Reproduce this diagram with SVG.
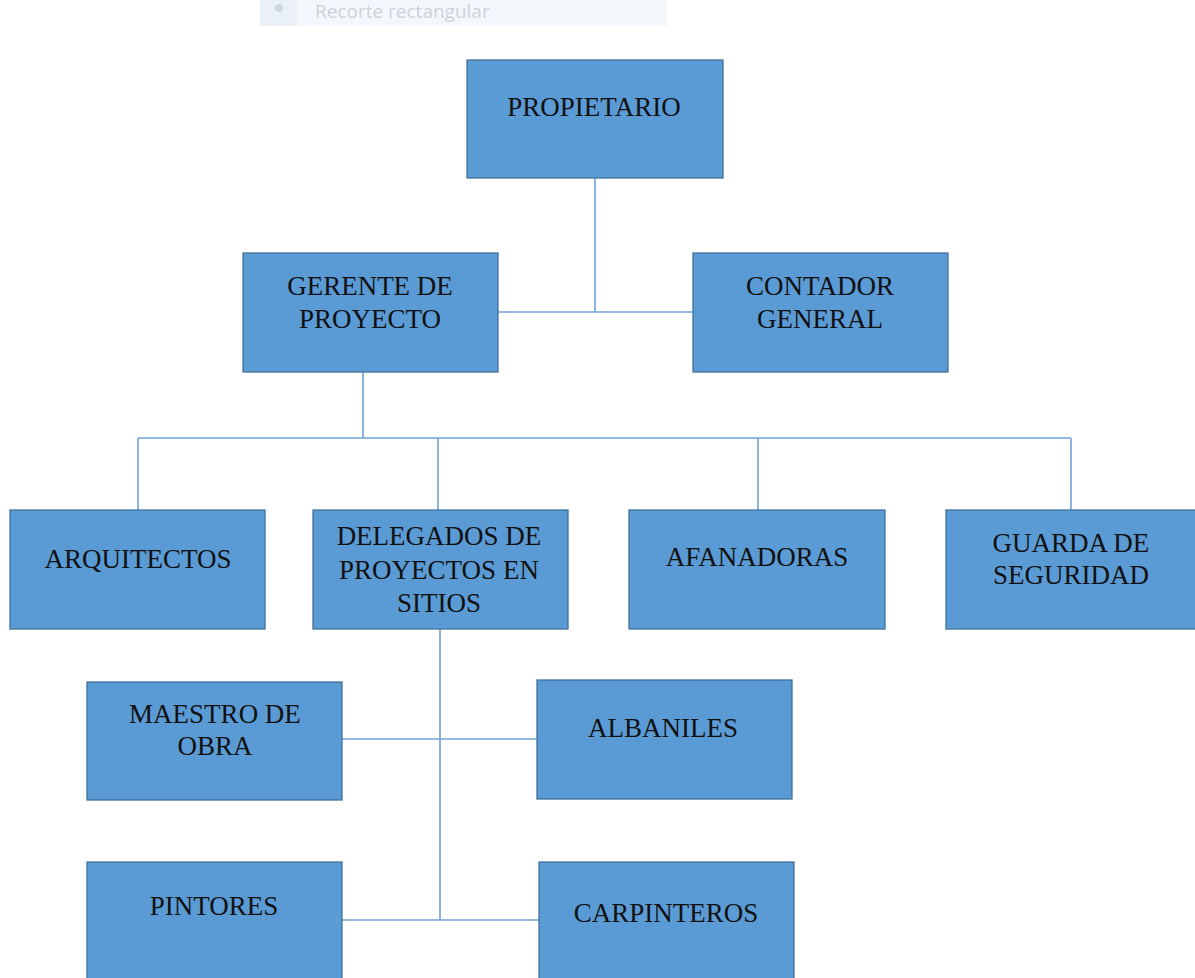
<svg xmlns="http://www.w3.org/2000/svg" width="1195" height="978" viewBox="0 0 1195 978">
<style>
.box{fill:#5b9bd5;stroke:#41719c;stroke-width:1.3}
.lbl{font-family:"Liberation Serif","Times New Roman",serif;font-size:27px;fill:#111;text-anchor:middle}
.con{stroke:#6fa3d9;stroke-width:1.6;fill:none}
</style>
<rect width="1195" height="978" fill="#ffffff"/>
<g id="artifact">
<rect x="260" y="0" width="407" height="26" fill="#f3f8fd"/>
<rect x="260" y="0" width="37" height="26" fill="#e9f0f8"/>
<circle cx="279" cy="8" r="4" fill="#cfd5dc"/>
<text x="315" y="18" font-family="'Open Sans','Liberation Sans',sans-serif" font-size="19" fill="#cdd2d8">Recorte rectangular</text>
</g>
<g id="connectors">
<path class="con" d="M595 178V312M498 312H693"/>
<path class="con" d="M363 372V438M138 438H1071M138 438V510M438 438V510M758 438V510M1071 438V510"/>
<path class="con" d="M440 629V920M342 739H537M342 920H539"/>
</g>
<g id="propietario"><rect class="box" x="467" y="60" width="256" height="118"/><text class="lbl" x="594" y="116">PROPIETARIO</text></g>
<g id="gerente"><rect class="box" x="243" y="253" width="255" height="119"/><text class="lbl" x="370" y="295">GERENTE DE</text><text class="lbl" x="370" y="328">PROYECTO</text></g>
<g id="contador"><rect class="box" x="693" y="253" width="255" height="119"/><text class="lbl" x="820" y="295">CONTADOR</text><text class="lbl" x="820" y="328">GENERAL</text></g>
<g id="arquitectos"><rect class="box" x="10" y="510" width="255" height="119"/><text class="lbl" x="138" y="568">ARQUITECTOS</text></g>
<g id="delegados"><rect class="box" x="313" y="510" width="255" height="119"/><text class="lbl" x="439" y="545">DELEGADOS DE</text><text class="lbl" x="439" y="579">PROYECTOS EN</text><text class="lbl" x="439" y="612">SITIOS</text></g>
<g id="afanadoras"><rect class="box" x="629" y="510" width="256" height="119"/><text class="lbl" x="757" y="566">AFANADORAS</text></g>
<g id="guarda"><rect class="box" x="946" y="510" width="255" height="119"/><text class="lbl" x="1071" y="552">GUARDA DE</text><text class="lbl" x="1071" y="584">SEGURIDAD</text></g>
<g id="maestro"><rect class="box" x="87" y="682" width="255" height="118"/><text class="lbl" x="215" y="723">MAESTRO DE</text><text class="lbl" x="215" y="755">OBRA</text></g>
<g id="albaniles"><rect class="box" x="537" y="680" width="255" height="119"/><text class="lbl" x="663" y="737">ALBANILES</text></g>
<g id="pintores"><rect class="box" x="87" y="862" width="255" height="130"/><text class="lbl" x="214" y="915">PINTORES</text></g>
<g id="carpinteros"><rect class="box" x="539" y="862" width="255" height="130"/><text class="lbl" x="666" y="922">CARPINTEROS</text></g>
</svg>
